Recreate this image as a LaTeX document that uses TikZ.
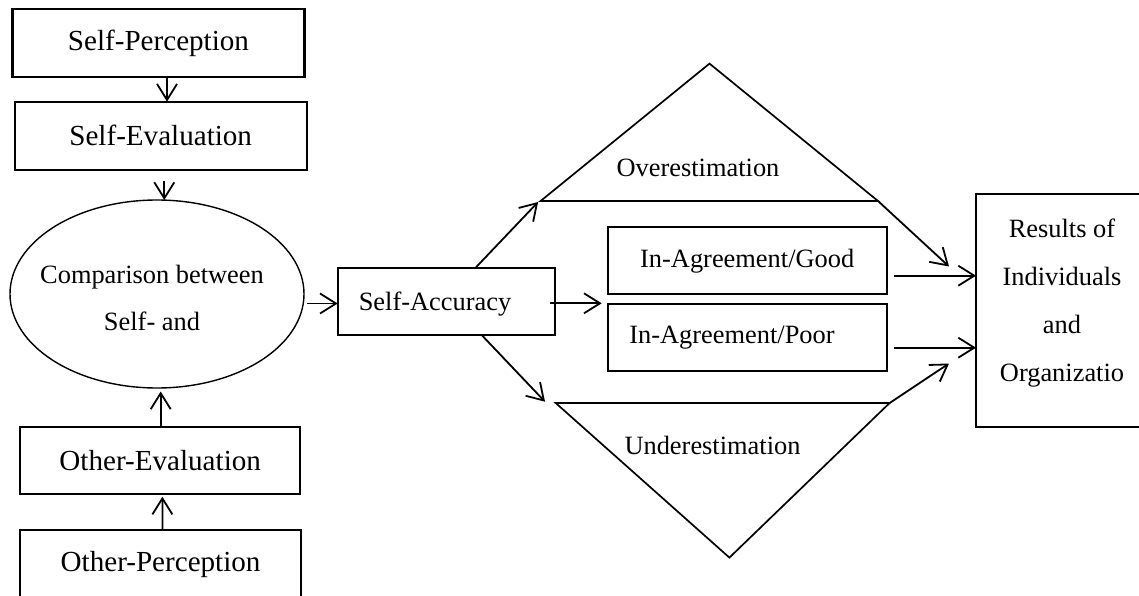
\documentclass[tikz,border=0pt]{standalone}
\usepackage{fontspec}
\setmainfont{Liberation Serif}
\usetikzlibrary{arrows.meta,shapes.geometric,calc}
\begin{document}
\begin{tikzpicture}[x=1pt,y=-1pt,
  box/.style={draw, line width=2.1pt, rectangle, inner sep=0pt, outer sep=0pt, font=\fontsize{26.4}{30}\selectfont},
  bigbox/.style={box, font=\fontsize{29.1}{33}\selectfont},
  lbl/.style={inner sep=0pt, font=\fontsize{26.4}{30}\selectfont},
  conn/.style={line width=1.8pt, -{Straight Barb[length=16pt,width=20pt]}},
  tri/.style={line width=1.7pt, line join=miter}]
\useasboundingbox (0,0) rectangle (1139,596);
\clip (0,0) rectangle (1139,596);
\fill[white] (0,0) rectangle (1139,596);

% left column
\node[bigbox, minimum width=292pt, minimum height=67.4pt] (sp) at (158.5,43) {Self-Perception};
\node[bigbox, minimum width=292pt, minimum height=68.3pt] (se) at (160.7,135.8) {Self-Evaluation};
\node[draw, ellipse, line width=1.4pt, minimum width=294pt, minimum height=188pt, inner sep=0pt, outer sep=0pt] (cmp) at (157,294) {};
\node[lbl, align=center, font=\fontsize{26.4}{47}\selectfont] (cmpt) at (152,298) {Comparison between\\Self- and};
\node[bigbox, minimum width=279.6pt, minimum height=67.6pt] (oe) at (160.2,460.5) {Other-Evaluation};
\node[bigbox, minimum width=280.6pt, minimum height=68pt] (op) at (160.6,564) {Other-Perception};

% self-accuracy
\node[box, minimum width=217.6pt, minimum height=66.7pt] (sa) at (446.5,301.7) {};
\node[lbl] (sat) at (435,304) {Self-Accuracy};

% middle boxes
\node[box, minimum width=279pt, minimum height=67.3pt] (good) at (747.2,260.7) {In-Agreement/Good};
\node[box, minimum width=279pt, minimum height=66.7pt] (poor) at (747.2,337.3) {};
\node[lbl] (poort) at (732,338) {In-Agreement/Poor};

% triangles
\coordinate (ovL) at (540.6,201);
\coordinate (ovT) at (709.5,63.6);
\coordinate (ovR) at (878,201);
\draw[tri] (ovL) -- (ovT) -- (ovR) -- cycle;
\node[lbl] (ovt) at (698,168) {Overestimation};
\coordinate (unL) at (555.7,403);
\coordinate (unB) at (729.4,557.6);
\coordinate (unR) at (889.6,403);
\draw[tri] (unL) -- (unR) -- (unB) -- cycle;
\node[lbl] (unt) at (712.5,445) {Underestimation};

% results
\node[box, minimum width=200pt, minimum height=233pt, anchor=north west] (res) at (976,194) {};
\node[lbl, align=center, font=\fontsize{26.4}{48}\selectfont] (rest) at (1062,303) {Results of\\Individuals\\and\\Organizatio};

% connector end points
\coordinate (gs) at ($(good.east)+(7.3,15)$);
\coordinate (ps) at ($(poor.east)+(7.3,10.4)$);
\coordinate (ms) at ($(sa.east)+(-5.3,1.6)$);
\coordinate (cs) at ($(cmp.east)+(2.7,9.5)$);

% connectors
\draw[conn] ($(sp.south)+(8.5,0)$) -- ($(se.north)+(6.3,0)$);
\draw[conn] ($(se.south)+(3.6,11)$) -- ($(cmp.north)+(7.3,0)$);
\draw[conn] ($(oe.north)+(0.5,0)$) -- ($(cmp.south)+(3.7,3.5)$);
\draw[conn] ($(op.north)+(1.8,0)$) -- ($(oe.south)+(2.2,2.4)$);
\draw[conn] (cs) -- (cs -| sa.west);
\draw[conn] ($(sa.north)+(28.5,0)$) -- ($(ovL)+(-2.5,1)$);
\draw[conn] (ms) -- ($(ms -| poor.west)+(-6,0)$);
\draw[conn] ($(sa.south)+(35.2,0)$) -- ($(unL)+(-10.7,-1.3)$);
\draw[conn] (gs) -- (gs -| res.west);
\draw[conn] (ps) -- (ps -| res.west);
\draw[conn] (ovR) -- ($(res.north west)+(-27,72.5)$);
\draw[conn] (unR) -- ($(res.north west)+(-27,169.5)$);
\end{tikzpicture}
\end{document}
